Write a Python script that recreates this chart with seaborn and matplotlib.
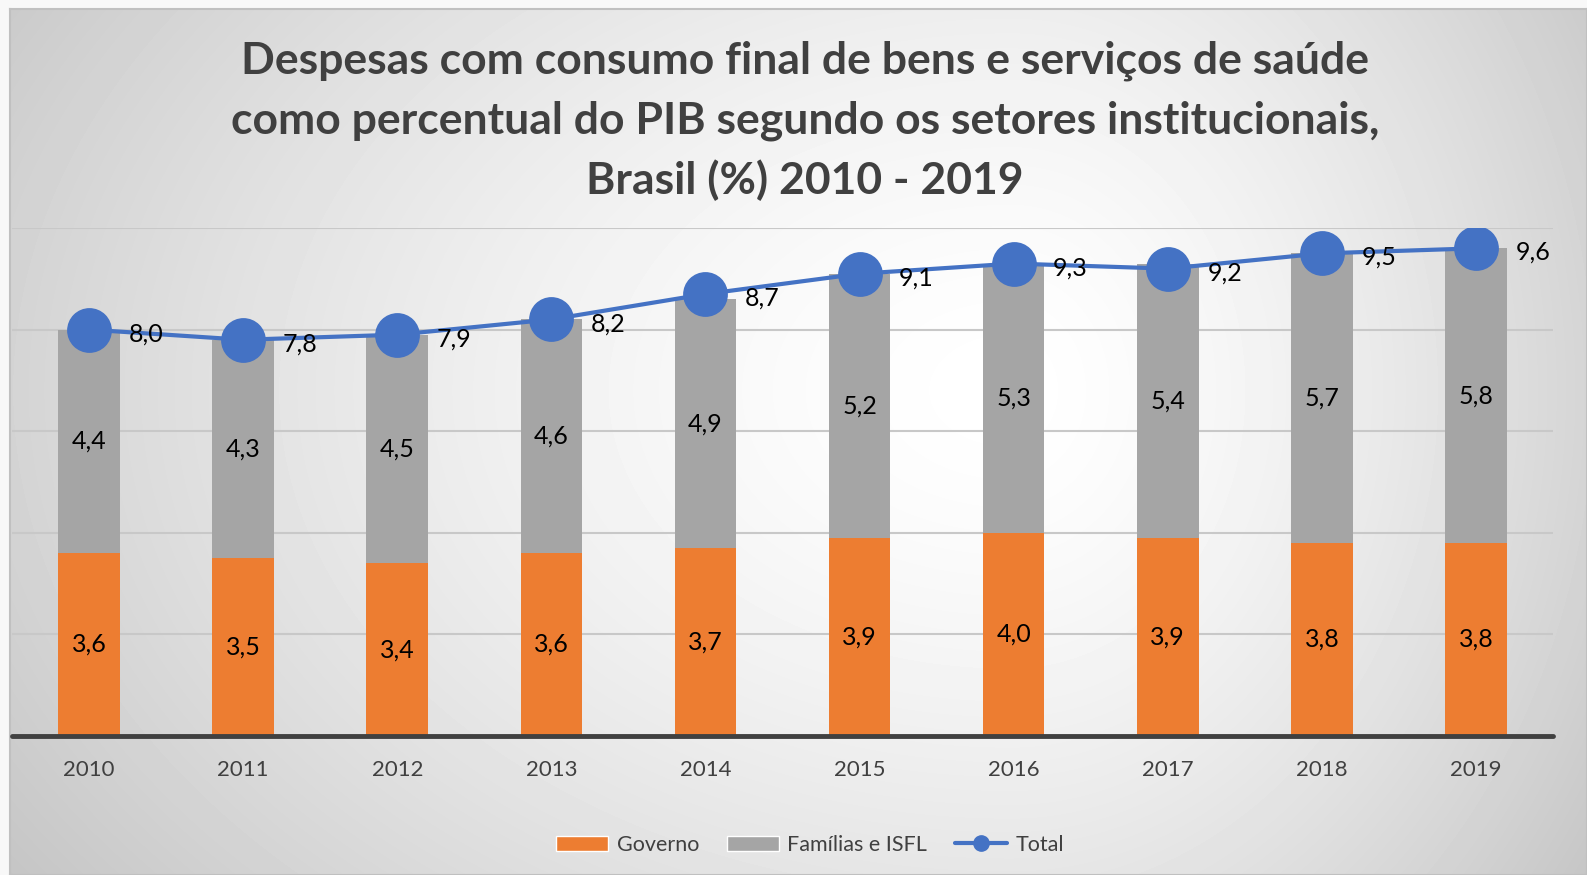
import numpy as np
import pandas as pd
import seaborn as sns
import matplotlib.pyplot as plt
from matplotlib.patches import Patch
from matplotlib.lines import Line2D

# dados (%)
anos = ['2010', '2011', '2012', '2013', '2014', '2015', '2016', '2017', '2018', '2019']
governo = [3.6, 3.5, 3.4, 3.6, 3.7, 3.9, 4.0, 3.9, 3.8, 3.8]
familias = [4.4, 4.3, 4.5, 4.6, 4.9, 5.2, 5.3, 5.4, 5.7, 5.8]
total = [8.0, 7.8, 7.9, 8.2, 8.7, 9.1, 9.3, 9.2, 9.5, 9.6]

titulo = ['Despesas com consumo final de bens e serviços de saúde',
          'como percentual do PIB segundo os setores institucionais,',
          'Brasil (%) 2010 - 2019']

df = pd.DataFrame({'ano': anos, 'governo': governo, 'familias': familias, 'total': total})
df['topo'] = df['governo'] + df['familias']

sns.set_theme(style='white')
plt.rcParams['font.family'] = ['Lato', 'DejaVu Sans']

W, H = 1587, 875
fig = plt.figure(figsize=(W / 100, H / 100), dpi=100)
fig.patch.set_facecolor('#f8f8f8')

# fundo com gradiente radial (estilo Excel)
bg = fig.add_axes([10 / W, 0, 1 - 10 / W, 1 - 9 / H])
yy, xx = np.mgrid[9:875, 10:1587].astype(float)
cx, cy = 1010, 390
sx = np.where(xx < cx, 1300.0, 760.0)
d = np.sqrt(((xx - cx) / sx) ** 2 + ((yy - cy) / 900.0) ** 2)
grad = 1 - 0.25 * np.clip(d, 0, 1) ** 1.5
bg.imshow(grad, cmap='gray', vmin=0, vmax=1, aspect='auto', interpolation='bilinear')
bg.set_xticks([])
bg.set_yticks([])
for s in bg.spines.values():
    s.set_color('#c0c0c0')
    s.set_linewidth(1.5)

ax = fig.add_axes([12 / W, 1 - 736 / H, (1553 - 12) / W, (736 - 228) / H])
ax.patch.set_alpha(0)

sns.barplot(data=df, x='ano', y='topo', color='#A5A5A5', width=0.4, saturation=1,
            linewidth=0, edgecolor='none', ax=ax, zorder=2)
sns.barplot(data=df, x='ano', y='governo', color='#ED7D31', width=0.4, saturation=1,
            linewidth=0, edgecolor='none', ax=ax, zorder=2)
sns.pointplot(data=df, x='ano', y='total', color='#4472C4', errorbar=None,
              markersize=30, linewidth=3, ax=ax, zorder=4)

ax.set_xlim(-0.5, 9.5)
ax.set_ylim(0, 10)
ax.set_yticks([0, 2, 4, 6, 8, 10])
ax.set_yticklabels([])
ax.grid(axis='y', color='#c8c8c8', lw=1.5)
ax.set_axisbelow(True)
for s in ax.spines.values():
    s.set_visible(False)
ax.axhline(0, color='#404040', lw=3.5, zorder=5, clip_on=False)
ax.set_xlabel('')
ax.set_ylabel('')
ax.tick_params(axis='x', length=0, pad=17, labelsize=16, labelcolor='#404040')
ax.tick_params(axis='y', length=0)

def fmt(v):
    return f'{v:.1f}'.replace('.', ',')

for i in range(len(anos)):
    g, f, t = governo[i], familias[i], total[i]
    ax.text(i, g / 2, fmt(g), ha='center', va='center', fontsize=18, color='black', zorder=6)
    ax.text(i, g + f / 2, fmt(f), ha='center', va='center', fontsize=18, color='black', zorder=6)
    ax.annotate(fmt(t), xy=(i, t), xytext=(41, -3), textcoords='offset points',
                ha='center', va='center', fontsize=18, color='black', zorder=6)

ys = [61, 121, 180]
for linha, y in zip(titulo, ys):
    fig.text(805 / W, 1 - y / H, linha, ha='center', va='center', fontsize=32,
             fontweight='bold', color='#404040')

handles = [Patch(facecolor='#ED7D31', label='Governo'),
           Patch(facecolor='#A5A5A5', label='Famílias e ISFL'),
           Line2D([0], [0], color='#4472C4', lw=3, marker='o', markersize=11, label='Total')]
leg = fig.legend(handles=handles, loc='center', bbox_to_anchor=(810 / W, 1 - 845 / H), ncol=3,
                 frameon=False, fontsize=15.5, handlelength=2.4, columnspacing=1.3, handletextpad=0.4)
for txt in leg.get_texts():
    txt.set_color('#404040')

fig.savefig('out.png', dpi=100)
